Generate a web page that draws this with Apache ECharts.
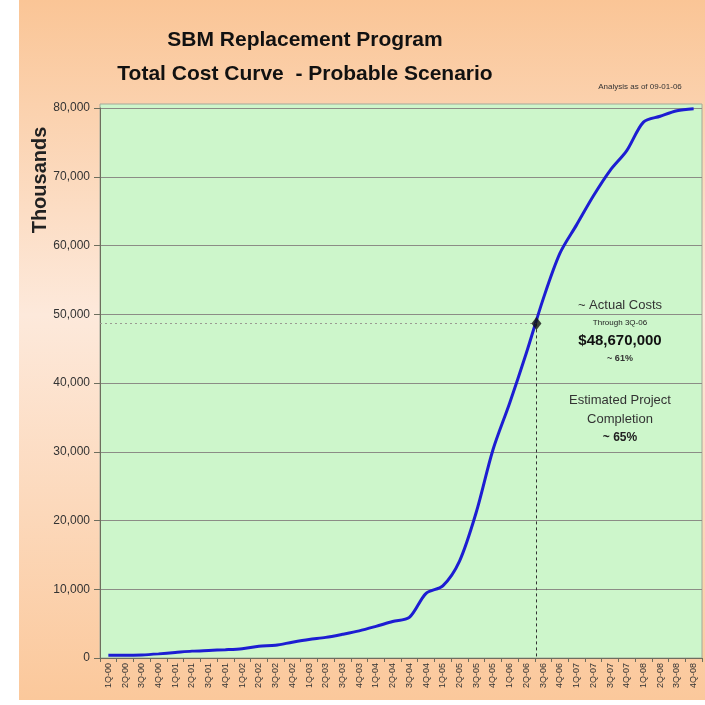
<!DOCTYPE html>
<html>
<head>
<meta charset="utf-8">
<script src="https://cdn.jsdelivr.net/npm/echarts@6/dist/echarts.min.js"></script>
<style>
  html, body { margin: 0; padding: 0; background: #fff; }
  #chart { width: 705px; height: 705px; }
</style>
</head>
<body>
<div id="chart"></div>
<script>
// quarters on the x axis
const quarters = [
  '1Q-00', '2Q-00', '3Q-00', '4Q-00',
  '1Q-01', '2Q-01', '3Q-01', '4Q-01',
  '1Q-02', '2Q-02', '3Q-02', '4Q-02',
  '1Q-03', '2Q-03', '3Q-03', '4Q-03',
  '1Q-04', '2Q-04', '3Q-04', '4Q-04',
  '1Q-05', '2Q-05', '3Q-05', '4Q-05',
  '1Q-06', '2Q-06', '3Q-06', '4Q-06',
  '1Q-07', '2Q-07', '3Q-07', '4Q-07',
  '1Q-08', '2Q-08', '3Q-08', '4Q-08'
]
// cumulative cost, thousands
const totalCost = [
  400, 400, 450, 600,
  800, 1000, 1100, 1200,
  1350, 1700, 1850, 2300,
  2700, 3000, 3450, 3950,
  4600, 5300, 5900, 9400,
  10500, 14100, 21200, 30300,
  37100, 44400, 52200, 58850,
  63000, 67200, 70900, 73800,
  77950, 78800, 79600, 79900
]
const yTicks = [0, 80000, 10000] // min, max, interval
// actual cost point: position along the quarters, value in thousands
const actualPos = 25.6
const actualCost = 48670

const FONT = '"Liberation Sans", Arial, sans-serif'

const myChart = echarts.init(document.getElementById('chart'))

// small helper for the centred note texts
function note(text, y, font, fill) {
  return {
    type: 'text', x: 620, y: y, silent: true,
    style: { text: text, font: font, fill: fill, align: 'center', verticalAlign: 'middle' }
  }
}

const option = {
  animation: false,
  backgroundColor: '#ffffff',
  textStyle: { fontFamily: FONT },
  graphic: {
    elements: [
      {
        type: 'rect', z: -10, silent: true,
        shape: { x: 19, y: 0, width: 686, height: 700 },
        style: {
          fill: new echarts.graphic.LinearGradient(0, 0, 0, 1, [
            { offset: 0, color: '#fac596' },
            { offset: 0.45, color: '#fde9db' },
            { offset: 1, color: '#fbc89b' }
          ])
        }
      },
      {
        type: 'rect', z: -5, silent: true,
        shape: { x: 100, y: 104, width: 602, height: 554 },
        style: { fill: '#cdf6cb', stroke: '#a3a89a', lineWidth: 1 }
      },
      {
        type: 'text', x: 40, y: 180, rotation: Math.PI / 2, silent: true,
        style: {
          text: 'Thousands', font: 'bold 20px "Liberation Sans", Arial, sans-serif',
          fill: '#222', align: 'center', verticalAlign: 'middle'
        }
      },
      {
        type: 'text', x: 640, y: 87, silent: true,
        style: { text: 'Analysis as of 09-01-06', font: '8px ' + FONT, fill: '#333', align: 'center', verticalAlign: 'middle' }
      },
      note('~ Actual Costs', 305, '13px ' + FONT, '#333'),
      note('Through 3Q-06', 323, '8px ' + FONT, '#222'),
      note('$48,670,000', 341, 'bold 15px ' + FONT, '#111'),
      note('~ 61%', 359, 'bold 9px ' + FONT, '#333'),
      note('Estimated Project', 400, '13px ' + FONT, '#333'),
      note('Completion', 419, '13px ' + FONT, '#333'),
      note('~ 65%', 438, 'bold 12px ' + FONT, '#222')
    ]
  },
  title: {
    text: 'SBM Replacement Program\nTotal Cost Curve  - Probable Scenario',
    left: 300,
    top: 18,
    textAlign: 'center',
    textStyle: {
      fontFamily: FONT,
      fontWeight: 'bold',
      fontSize: 21,
      lineHeight: 34,
      color: '#111'
    }
  },
  grid: { left: 100, right: 3, top: 108, bottom: 47 },
  xAxis: [
    {
      type: 'category',
      data: quarters,
      boundaryGap: true,
      axisLine: { lineStyle: { color: '#6e6e5e', width: 1 } },
      axisTick: { show: true, length: 4, lineStyle: { color: '#6e6e5e' } },
      axisLabel: {
        interval: 0, rotate: 90, fontSize: 9, color: '#333', margin: 5,
        fontFamily: FONT
      },
      splitLine: { show: false }
    },
    {
      type: 'value',
      min: -0.5, max: quarters.length - 0.5,
      show: false,
      splitLine: { show: false }
    }
  ],
  yAxis: {
    type: 'value',
    min: yTicks[0], max: yTicks[1], interval: yTicks[2],
    axisLine: { show: true, onZero: false, lineStyle: { color: '#6e6e5e', width: 1 } },
    axisTick: { show: true, length: 6, lineStyle: { color: '#6e6e5e' } },
    axisLabel: {
      fontSize: 12, color: '#333', margin: 10, fontFamily: FONT,
      formatter: v => v.toLocaleString('en-US')
    },
    splitLine: { lineStyle: { color: '#8c8c86', width: 1 } }
  },
  series: [
    {
      name: 'Total Cost',
      type: 'line',
      data: totalCost,
      smooth: 0.3,
      showSymbol: false,
      lineStyle: { color: '#1d1dd2', width: 3 },
      z: 3
    },
    {
      name: 'Actual',
      type: 'scatter',
      xAxisIndex: 1,
      data: [[actualPos, actualCost]],
      symbol: 'diamond',
      symbolSize: [10, 13],
      itemStyle: { color: '#111' },
      z: 5,
      markLine: {
        silent: true,
        symbol: 'none',
        label: { show: false },
        data: [
          [
            { coord: [-0.5, actualCost], lineStyle: { type: [2, 3], color: '#9a9a92', width: 1 } },
            { coord: [actualPos, actualCost] }
          ],
          [
            { coord: [actualPos, actualCost], lineStyle: { type: [3, 3], color: '#333', width: 1 } },
            { coord: [actualPos, yTicks[0]] }
          ]
        ]
      }
    }
  ]
}

myChart.setOption(option)
</script>
</body>
</html>
